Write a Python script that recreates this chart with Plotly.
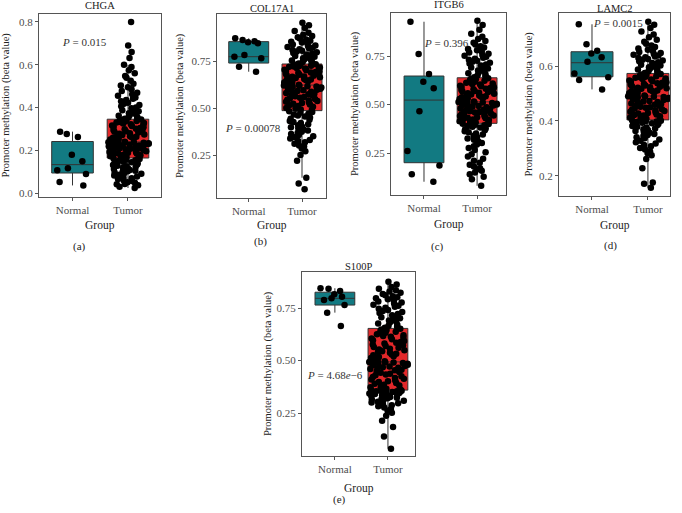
import plotly.graph_objects as go

# ---------------- data ----------------
groups = ["Normal", "Tumor"]
genes = ["CHGA", "COL17A1", "ITGB6", "LAMC2", "S100P"]
panel_tags = ["(a)", "(b)", "(c)", "(d)", "(e)"]
p_labels = ["<i>P</i> = 0.015", "<i>P</i> = 0.00078", "<i>P</i> = 0.396",
            "<i>P</i> = 0.0015", "<i>P</i> = 4.68<i>e</i>\u22126"]

# y-axis tick values per panel
yticks_chga = [0.0, 0.2, 0.4, 0.6, 0.8]
yticks_col17a1 = [0.25, 0.50, 0.75]
yticks_itgb6 = [0.25, 0.50, 0.75]
yticks_lamc2 = [0.2, 0.4, 0.6]
yticks_s100p = [0.25, 0.50, 0.75]

# box statistics [Normal, Tumor]
chga_q1 = [0.095, 0.165]; chga_med = [0.134, 0.240]; chga_q3 = [0.242, 0.346]
chga_lo = [0.037, 0.025]; chga_hi = [0.288, 0.600]
col_q1 = [0.739, 0.486]; col_med = [0.773, 0.622]; col_q3 = [0.853, 0.734]
col_lo = [0.693, 0.129]; col_hi = [0.871, 0.954]
itg_q1 = [0.200, 0.403]; itg_med = [0.523, 0.514]; itg_q3 = [0.647, 0.638]
itg_lo = [0.102, 0.081]; itg_hi = [0.927, 0.932]
lam_q1 = [0.561, 0.404]; lam_med = [0.612, 0.491]; lam_q3 = [0.652, 0.573]
lam_lo = [0.515, 0.157]; lam_hi = [0.752, 0.761]
s1p_q1 = [0.764, 0.360]; s1p_med = [0.796, 0.494]; s1p_q3 = [0.825, 0.653]
s1p_lo = [0.728, 0.082]; s1p_hi = [0.844, 0.875]

# sample values
chga_normal = [0.277, 0.263, 0.288, 0.18, 0.15, 0.117, 0.108, 0.09, 0.053, 0.037]
chga_tumor = [
    0.025, 0.031, 0.038, 0.042, 0.044, 0.049, 0.052, 0.058, 0.061, 0.067, 0.071, 0.074, 0.079, 0.083,
    0.087, 0.091, 0.094, 0.097, 0.101, 0.103, 0.106, 0.109, 0.112, 0.114, 0.117, 0.121, 0.124, 0.127,
    0.129, 0.132, 0.135, 0.138, 0.141, 0.145, 0.148, 0.151, 0.154, 0.157, 0.16, 0.163,
    0.166, 0.168, 0.171, 0.173, 0.175, 0.178, 0.18, 0.182, 0.185, 0.187, 0.189, 0.191, 0.193, 0.196,
    0.198, 0.2, 0.202, 0.204, 0.206, 0.208, 0.21, 0.212, 0.214, 0.216, 0.218, 0.22, 0.222, 0.223,
    0.225, 0.227, 0.229, 0.23, 0.231, 0.233, 0.234, 0.235, 0.236, 0.237, 0.238, 0.239,
    0.241, 0.243, 0.246, 0.248, 0.251, 0.254, 0.256, 0.259, 0.262, 0.264, 0.267, 0.27, 0.272, 0.275,
    0.278, 0.281, 0.284, 0.287, 0.29, 0.293, 0.296, 0.299, 0.302, 0.305, 0.308, 0.311, 0.314, 0.317,
    0.32, 0.323, 0.326, 0.328, 0.331, 0.333, 0.336, 0.338, 0.34, 0.342, 0.344, 0.345,
    0.348, 0.352, 0.355, 0.358, 0.362, 0.366, 0.37, 0.374, 0.378, 0.383, 0.388, 0.392, 0.397, 0.401,
    0.406, 0.412, 0.418, 0.423, 0.43, 0.436, 0.442, 0.447, 0.455, 0.462, 0.47, 0.478, 0.486, 0.495,
    0.503, 0.512, 0.525, 0.54, 0.548, 0.56, 0.575, 0.59, 0.6, 0.632, 0.66, 0.69, 0.80]

col_normal = [0.871, 0.862, 0.855, 0.85, 0.845, 0.782, 0.772, 0.765, 0.72, 0.693]
col_tumor = [
    0.068, 0.099, 0.129, 0.22, 0.25, 0.27, 0.285, 0.295, 0.3, 0.31, 0.318, 0.325, 0.33, 0.338, 0.345,
    0.35, 0.356, 0.362, 0.368, 0.374, 0.38, 0.386, 0.392, 0.397, 0.402, 0.408, 0.414, 0.42, 0.425,
    0.431, 0.437, 0.443, 0.449, 0.455, 0.46, 0.465, 0.47, 0.475, 0.479, 0.483,
    0.489, 0.492, 0.496, 0.5, 0.503, 0.507, 0.511, 0.514, 0.518, 0.522, 0.526, 0.529, 0.533, 0.537,
    0.54, 0.544, 0.548, 0.551, 0.555, 0.559, 0.562, 0.566, 0.569, 0.573, 0.576, 0.58, 0.583, 0.587,
    0.59, 0.594, 0.597, 0.6, 0.603, 0.606, 0.609, 0.612, 0.614, 0.616, 0.618, 0.62,
    0.624, 0.627, 0.63, 0.633, 0.636, 0.639, 0.642, 0.645, 0.648, 0.651, 0.654, 0.657, 0.66, 0.663,
    0.666, 0.668, 0.671, 0.674, 0.677, 0.68, 0.683, 0.686, 0.689, 0.692, 0.695, 0.698, 0.701, 0.704,
    0.707, 0.71, 0.713, 0.716, 0.719, 0.721, 0.723, 0.725, 0.727, 0.729, 0.731, 0.733,
    0.737, 0.741, 0.745, 0.749, 0.753, 0.757, 0.761, 0.765, 0.769, 0.773, 0.777, 0.781, 0.785, 0.789,
    0.793, 0.797, 0.801, 0.805, 0.809, 0.813, 0.817, 0.821, 0.825, 0.829, 0.833, 0.838, 0.843, 0.848,
    0.853, 0.858, 0.864, 0.87, 0.876, 0.883, 0.89, 0.9, 0.91, 0.925, 0.94, 0.954]

itg_normal = [0.927, 0.76, 0.657, 0.618, 0.584, 0.466, 0.26, 0.185, 0.14, 0.102]
itg_tumor = [
    0.081, 0.115, 0.128, 0.14, 0.15, 0.158, 0.165, 0.172, 0.18, 0.19, 0.2, 0.21, 0.22, 0.232, 0.243,
    0.254, 0.265, 0.276, 0.285, 0.294, 0.302, 0.31, 0.318, 0.325, 0.332, 0.339, 0.345, 0.351, 0.357,
    0.362, 0.367, 0.372, 0.377, 0.381, 0.385, 0.389, 0.393, 0.396, 0.399, 0.401,
    0.405, 0.408, 0.411, 0.414, 0.417, 0.42, 0.423, 0.426, 0.429, 0.432, 0.435, 0.438, 0.441, 0.444,
    0.447, 0.45, 0.453, 0.456, 0.459, 0.462, 0.465, 0.468, 0.471, 0.474, 0.477, 0.48, 0.483, 0.486,
    0.489, 0.492, 0.495, 0.498, 0.5, 0.502, 0.504, 0.506, 0.508, 0.51, 0.511, 0.513,
    0.516, 0.519, 0.522, 0.525, 0.528, 0.531, 0.534, 0.537, 0.54, 0.543, 0.546, 0.549, 0.552, 0.555,
    0.558, 0.561, 0.564, 0.567, 0.57, 0.573, 0.576, 0.579, 0.582, 0.585, 0.588, 0.591, 0.594, 0.597,
    0.6, 0.603, 0.606, 0.609, 0.612, 0.615, 0.618, 0.622, 0.626, 0.63, 0.633, 0.636,
    0.641, 0.646, 0.651, 0.656, 0.661, 0.666, 0.671, 0.676, 0.681, 0.686, 0.691, 0.696, 0.701, 0.706,
    0.711, 0.716, 0.721, 0.726, 0.731, 0.736, 0.741, 0.746, 0.751, 0.756, 0.762, 0.768, 0.774, 0.78,
    0.787, 0.794, 0.801, 0.809, 0.818, 0.828, 0.838, 0.85, 0.865, 0.885, 0.91, 0.932]

lam_normal = [0.752, 0.679, 0.656, 0.646, 0.632, 0.616, 0.573, 0.559, 0.549, 0.515]
lam_tumor = [
    0.157, 0.172, 0.176, 0.228, 0.262, 0.275, 0.283, 0.29, 0.296, 0.302, 0.308, 0.313, 0.318, 0.323,
    0.328, 0.333, 0.337, 0.341, 0.345, 0.349, 0.353, 0.357, 0.361, 0.364, 0.367, 0.37, 0.373, 0.376,
    0.379, 0.382, 0.385, 0.388, 0.39, 0.392, 0.394, 0.396, 0.398, 0.4, 0.401, 0.403,
    0.406, 0.408, 0.41, 0.413, 0.415, 0.417, 0.42, 0.422, 0.424, 0.427, 0.429, 0.431, 0.434, 0.436,
    0.438, 0.441, 0.443, 0.445, 0.448, 0.45, 0.452, 0.455, 0.457, 0.459, 0.462, 0.464, 0.466, 0.469,
    0.471, 0.473, 0.476, 0.478, 0.48, 0.482, 0.484, 0.486, 0.487, 0.488, 0.489, 0.49,
    0.493, 0.495, 0.497, 0.499, 0.501, 0.503, 0.505, 0.507, 0.509, 0.511, 0.513, 0.515, 0.517, 0.519,
    0.521, 0.523, 0.525, 0.527, 0.529, 0.531, 0.533, 0.535, 0.537, 0.539, 0.541, 0.543, 0.545, 0.547,
    0.549, 0.551, 0.553, 0.555, 0.557, 0.559, 0.561, 0.563, 0.565, 0.567, 0.569, 0.571,
    0.575, 0.578, 0.581, 0.584, 0.587, 0.59, 0.593, 0.596, 0.599, 0.602, 0.605, 0.608, 0.611, 0.614,
    0.617, 0.62, 0.623, 0.626, 0.629, 0.632, 0.635, 0.638, 0.641, 0.644, 0.647, 0.651, 0.655, 0.659,
    0.664, 0.669, 0.675, 0.681, 0.688, 0.696, 0.705, 0.715, 0.726, 0.738, 0.75, 0.761]

s1p_normal = [0.844, 0.842, 0.831, 0.815, 0.804, 0.796, 0.788, 0.764, 0.728, 0.664]
s1p_tumor = [
    0.082, 0.14, 0.185, 0.215, 0.238, 0.252, 0.262, 0.27, 0.277, 0.283, 0.288, 0.293, 0.297, 0.301,
    0.305, 0.309, 0.312, 0.315, 0.318, 0.321, 0.324, 0.327, 0.33, 0.332, 0.334, 0.336, 0.338, 0.34,
    0.342, 0.344, 0.346, 0.348, 0.35, 0.351, 0.352, 0.354, 0.355, 0.356, 0.357, 0.359,
    0.362, 0.366, 0.37, 0.374, 0.378, 0.382, 0.386, 0.39, 0.394, 0.398, 0.402, 0.406, 0.41, 0.414,
    0.418, 0.422, 0.426, 0.43, 0.434, 0.438, 0.442, 0.446, 0.45, 0.454, 0.457, 0.46, 0.463, 0.466,
    0.469, 0.472, 0.475, 0.478, 0.481, 0.483, 0.485, 0.487, 0.489, 0.491, 0.492, 0.493,
    0.497, 0.501, 0.505, 0.509, 0.513, 0.517, 0.521, 0.525, 0.529, 0.533, 0.537, 0.541, 0.545, 0.549,
    0.553, 0.557, 0.561, 0.565, 0.569, 0.573, 0.577, 0.581, 0.585, 0.589, 0.593, 0.597, 0.601, 0.605,
    0.609, 0.613, 0.617, 0.621, 0.625, 0.629, 0.633, 0.637, 0.641, 0.645, 0.648, 0.651,
    0.656, 0.661, 0.666, 0.671, 0.676, 0.681, 0.686, 0.691, 0.696, 0.701, 0.706, 0.711, 0.716, 0.721,
    0.726, 0.731, 0.736, 0.741, 0.746, 0.751, 0.756, 0.761, 0.766, 0.771, 0.776, 0.781, 0.786, 0.791,
    0.796, 0.801, 0.806, 0.811, 0.816, 0.822, 0.828, 0.834, 0.842, 0.85, 0.862, 0.875]

# ---------------- assemble ----------------
panels = [
    dict(normal=chga_normal, tumor=chga_tumor, q1=chga_q1, med=chga_med, q3=chga_q3, lo=chga_lo, hi=chga_hi, yt=yticks_chga, fmt=".1f"),
    dict(normal=col_normal, tumor=col_tumor, q1=col_q1, med=col_med, q3=col_q3, lo=col_lo, hi=col_hi, yt=yticks_col17a1, fmt=".2f"),
    dict(normal=itg_normal, tumor=itg_tumor, q1=itg_q1, med=itg_med, q3=itg_q3, lo=itg_lo, hi=itg_hi, yt=yticks_itgb6, fmt=".2f"),
    dict(normal=lam_normal, tumor=lam_tumor, q1=lam_q1, med=lam_med, q3=lam_q3, lo=lam_lo, hi=lam_hi, yt=yticks_lamc2, fmt=".1f"),
    dict(normal=s1p_normal, tumor=s1p_tumor, q1=s1p_q1, med=s1p_med, q3=s1p_q3, lo=s1p_lo, hi=s1p_hi, yt=yticks_s100p, fmt=".2f"),
]

# layout (pixels in 682x513 canvas)
W, H = 682, 513
frames = [(39, 161, 14, 197), (217, 326, 14, 198), (391, 506, 13, 195), (559, 670, 13, 196), (302, 415, 272, 456)]
xranges = [(0.396, 2.595), (0.405, 2.45), (0.379, 2.544), (0.41, 2.395), (0.38, 2.51)]
yranges = [(-0.017, 0.837), (0.0213, 1.0), (0.0335, 0.972), (0.127, 0.793), (0.047, 0.921)]
title_y = [5, 8, 4, 8, 266]
ytitle_x = [6, 180, 355, 528, 268]
group_y = [225, 225, 224, 225, 488]
tag_pos = [(79, 246), (260, 241), (437, 246), (610, 245), (339, 499)]
p_pos = [(1.21, 0.706), (1.08, 0.394), (1.42, 0.817), (1.46, 0.756), (1.0, 0.432)]

FONT = "Liberation Serif"
colors = ["#127A82", "#E2282A"]

fig = go.Figure()
annotations = []

def px_x(v):
    return v / W

def px_y(v):
    return 1 - v / H

for i, p in enumerate(panels):
    sfx = "" if i == 0 else str(i + 1)
    xa, ya = "x" + sfx, "y" + sfx
    for g in range(2):
        fig.add_trace(go.Box(
            x=[g + 1], q1=[p["q1"][g]], median=[p["med"][g]], q3=[p["q3"][g]],
            lowerfence=[p["lo"][g]], upperfence=[p["hi"][g]],
            width=0.75, fillcolor=colors[g], line=dict(color="#333333", width=1),
            whiskerwidth=0, boxpoints=False, xaxis=xa, yaxis=ya, showlegend=False,
            name=groups[g]))
    for g, vals in enumerate([p["normal"], p["tumor"]]):
        fig.add_trace(go.Box(
            y=vals, x0=g + 1, width=0.75, boxpoints="all", jitter=1.0, pointpos=0,
            fillcolor="rgba(0,0,0,0)", line=dict(color="rgba(0,0,0,0)", width=0),
            marker=dict(color="black", size=6.5), xaxis=xa, yaxis=ya, showlegend=False,
            name=groups[g]))

    l, r, t, b = frames[i]
    axcommon = dict(showline=True, mirror=True, linecolor="#555555", linewidth=1,
                    ticks="outside", ticklen=3, tickcolor="#555555", showgrid=False,
                    zeroline=False, automargin=False,
                    tickfont=dict(family=FONT, size=11, color="#4D4D4D"))
    fig.update_layout(**{
        ("xaxis" + sfx): dict(axcommon, domain=[px_x(l), px_x(r)], range=list(xranges[i]),
                              tickvals=[1, 2], ticktext=groups, anchor=ya),
        ("yaxis" + sfx): dict(axcommon, domain=[px_y(b), px_y(t)], range=list(yranges[i]),
                              tickvals=p["yt"], tickformat=p["fmt"], anchor=xa),
    })
    cx = px_x((l + r) / 2)
    tf = dict(family=FONT, color="#222222")
    annotations.append(dict(text=genes[i], x=cx, y=px_y(title_y[i]), xref="paper", yref="paper",
                            showarrow=False, font=dict(tf, size=10.5), xanchor="center", yanchor="middle"))
    annotations.append(dict(text="Promoter methylation (beta value)", x=px_x(ytitle_x[i]),
                            y=px_y((t + b) / 2), xref="paper", yref="paper", textangle=-90,
                            showarrow=False, font=dict(tf, size=10.5), xanchor="center", yanchor="middle"))
    annotations.append(dict(text="Group", x=cx, y=px_y(group_y[i]), xref="paper", yref="paper",
                            showarrow=False, font=dict(tf, size=11.5), xanchor="center", yanchor="middle"))
    annotations.append(dict(text=panel_tags[i], x=px_x(tag_pos[i][0]), y=px_y(tag_pos[i][1]),
                            xref="paper", yref="paper", showarrow=False, font=dict(tf, size=11),
                            xanchor="center", yanchor="middle"))
    annotations.append(dict(text=p_labels[i], x=p_pos[i][0], y=p_pos[i][1], xref=xa, yref=ya,
                            showarrow=False, font=dict(tf, size=11, color="#333333"),
                            xanchor="center", yanchor="middle"))

fig.update_layout(width=W, height=H, margin=dict(l=0, r=0, t=0, b=0),
                  plot_bgcolor="white", paper_bgcolor="white", boxmode="overlay",
                  annotations=annotations, showlegend=False, hovermode=False,
                  font=dict(family=FONT))

fig.write_html("out.html", config={"displayModeBar": False, "staticPlot": True})

# remove the browser's default page margin so the figure sits at the window origin
with open("out.html", "r", encoding="utf-8") as fh:
    html = fh.read()
html = html.replace("<head>", "<head><style>html,body{margin:0;padding:0;overflow:hidden;}</style>", 1)
with open("out.html", "w", encoding="utf-8") as fh:
    fh.write(html)
